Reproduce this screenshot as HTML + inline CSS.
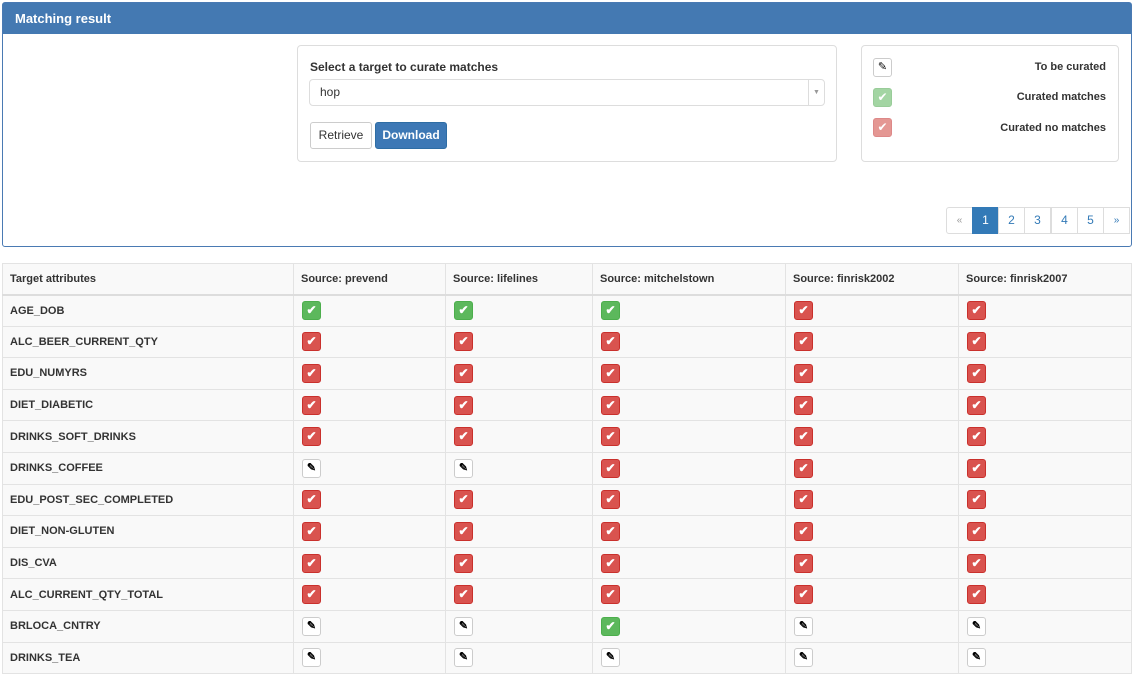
<!DOCTYPE html>
<html><head><meta charset="utf-8"><style>
*{box-sizing:border-box;margin:0;padding:0}
body{width:1134px;height:669px;overflow:hidden;background:#fff;font-family:"Liberation Sans",Helvetica,Arial,sans-serif;color:#333;position:relative}
.abs{position:absolute}
.panel{left:2px;top:2px;width:1130px;height:245px;border:1px solid #4a7ab3;border-radius:3px}
.ph{left:0;top:0;width:1128px;height:31px;background:#4479b2;color:#fff;font-weight:bold;font-size:13px;line-height:31px;padding-left:12px}
.box{border:1px solid #ddd;border-radius:4px;background:#fff}
.btn{border:1px solid #ccc;border-radius:3px;font-size:12px;text-align:center;line-height:24px}
.pg{top:207px;width:27px;height:27px;border:1px solid #ddd;margin-left:-1px;color:#337ab7;font-size:12px;text-align:center;line-height:25px;background:#fff}
table{position:absolute;left:2px;top:263px;border-collapse:collapse;background:#f9f9f9;font-size:11px;font-weight:bold}
td{border:1px solid #e3e3e3;height:31.6px;padding:0 0 0 7px;vertical-align:middle}
tr:first-child td{height:31px;border-bottom:2px solid #ddd;font-weight:bold}
.i{display:inline-block;width:19px;height:19px;border-radius:3px;vertical-align:middle;text-align:center;font-size:12px;line-height:17px;color:#fff;margin-left:1px}
.g{background:#5cb85c;border:1px solid #4cae4c}
.r{background:#d9534f;border:1px solid #c9302c}
.p{background:#fff;border:1px solid #ccc;color:#000;font-size:11px}
.lg{background:#a3d5a3}
.lr{background:#e49793}
</style></head><body>
<div class="abs panel">
<div class="abs ph">Matching result</div>
</div>
<div class="abs box" style="left:297px;top:45px;width:540px;height:117px"></div>
<div class="abs" style="left:310px;top:60px;font-size:12px;font-weight:bold">Select a target to curate matches</div>
<div class="abs box" style="left:309px;top:79px;width:516px;height:27px;font-size:12px;line-height:25px;padding-left:10px">hop<div class="abs" style="right:0;top:0;width:16px;height:25px;border-left:1px solid #ddd;font-size:7px;color:#999;text-align:center">▼</div></div>
<div class="abs btn" style="left:310px;top:122px;width:62px;height:27px;background:#fff">Retrieve</div>
<div class="abs btn" style="left:375px;top:122px;width:72px;height:27px;background:#3d78b5;border-color:#2e6da4;color:#fff;font-weight:bold">Download</div>

<div class="abs box" style="left:861px;top:45px;width:258px;height:117px"></div>
<div class="abs i p" style="left:872px;top:58px">✎</div>
<div class="abs i g lg" style="left:872px;top:88px;border-color:#9c9">✔</div>
<div class="abs i r lr" style="left:872px;top:118px;border-color:#d88">✔</div>
<div class="abs" style="right:28px;top:61px;font-size:11px;font-weight:bold">To be curated</div>
<div class="abs" style="right:28px;top:91px;font-size:11px;font-weight:bold">Curated matches</div>
<div class="abs" style="right:28px;top:122px;font-size:11px;font-weight:bold">Curated no matches</div>

<div class="abs pg" style="left:947px;color:#999;font-size:10px;border-radius:3px 0 0 3px">«</div>
<div class="abs pg" style="left:973px;background:#337ab7;border-color:#337ab7;color:#fff">1</div>
<div class="abs pg" style="left:999px">2</div>
<div class="abs pg" style="left:1025px">3</div>
<div class="abs pg" style="left:1052px">4</div>
<div class="abs pg" style="left:1078px">5</div>
<div class="abs pg" style="left:1104px;font-size:10px">»</div>

<table>
<colgroup><col style="width:291px"><col style="width:152px"><col style="width:147px"><col style="width:193px"><col style="width:173px"><col style="width:173px"></colgroup>
<tr><td>Target attributes</td><td>Source: prevend</td><td>Source: lifelines</td><td>Source: mitchelstown</td><td>Source: finrisk2002</td><td>Source: finrisk2007</td></tr>
<tr><td>AGE_DOB</td><td><span class="i g">✔</span></td><td><span class="i g">✔</span></td><td><span class="i g">✔</span></td><td><span class="i r">✔</span></td><td><span class="i r">✔</span></td></tr>
<tr><td>ALC_BEER_CURRENT_QTY</td><td><span class="i r">✔</span></td><td><span class="i r">✔</span></td><td><span class="i r">✔</span></td><td><span class="i r">✔</span></td><td><span class="i r">✔</span></td></tr>
<tr><td>EDU_NUMYRS</td><td><span class="i r">✔</span></td><td><span class="i r">✔</span></td><td><span class="i r">✔</span></td><td><span class="i r">✔</span></td><td><span class="i r">✔</span></td></tr>
<tr><td>DIET_DIABETIC</td><td><span class="i r">✔</span></td><td><span class="i r">✔</span></td><td><span class="i r">✔</span></td><td><span class="i r">✔</span></td><td><span class="i r">✔</span></td></tr>
<tr><td>DRINKS_SOFT_DRINKS</td><td><span class="i r">✔</span></td><td><span class="i r">✔</span></td><td><span class="i r">✔</span></td><td><span class="i r">✔</span></td><td><span class="i r">✔</span></td></tr>
<tr><td>DRINKS_COFFEE</td><td><span class="i p">✎</span></td><td><span class="i p">✎</span></td><td><span class="i r">✔</span></td><td><span class="i r">✔</span></td><td><span class="i r">✔</span></td></tr>
<tr><td>EDU_POST_SEC_COMPLETED</td><td><span class="i r">✔</span></td><td><span class="i r">✔</span></td><td><span class="i r">✔</span></td><td><span class="i r">✔</span></td><td><span class="i r">✔</span></td></tr>
<tr><td>DIET_NON-GLUTEN</td><td><span class="i r">✔</span></td><td><span class="i r">✔</span></td><td><span class="i r">✔</span></td><td><span class="i r">✔</span></td><td><span class="i r">✔</span></td></tr>
<tr><td>DIS_CVA</td><td><span class="i r">✔</span></td><td><span class="i r">✔</span></td><td><span class="i r">✔</span></td><td><span class="i r">✔</span></td><td><span class="i r">✔</span></td></tr>
<tr><td>ALC_CURRENT_QTY_TOTAL</td><td><span class="i r">✔</span></td><td><span class="i r">✔</span></td><td><span class="i r">✔</span></td><td><span class="i r">✔</span></td><td><span class="i r">✔</span></td></tr>
<tr><td>BRLOCA_CNTRY</td><td><span class="i p">✎</span></td><td><span class="i p">✎</span></td><td><span class="i g">✔</span></td><td><span class="i p">✎</span></td><td><span class="i p">✎</span></td></tr>
<tr><td>DRINKS_TEA</td><td><span class="i p">✎</span></td><td><span class="i p">✎</span></td><td><span class="i p">✎</span></td><td><span class="i p">✎</span></td><td><span class="i p">✎</span></td></tr>
</table>
</body></html>
